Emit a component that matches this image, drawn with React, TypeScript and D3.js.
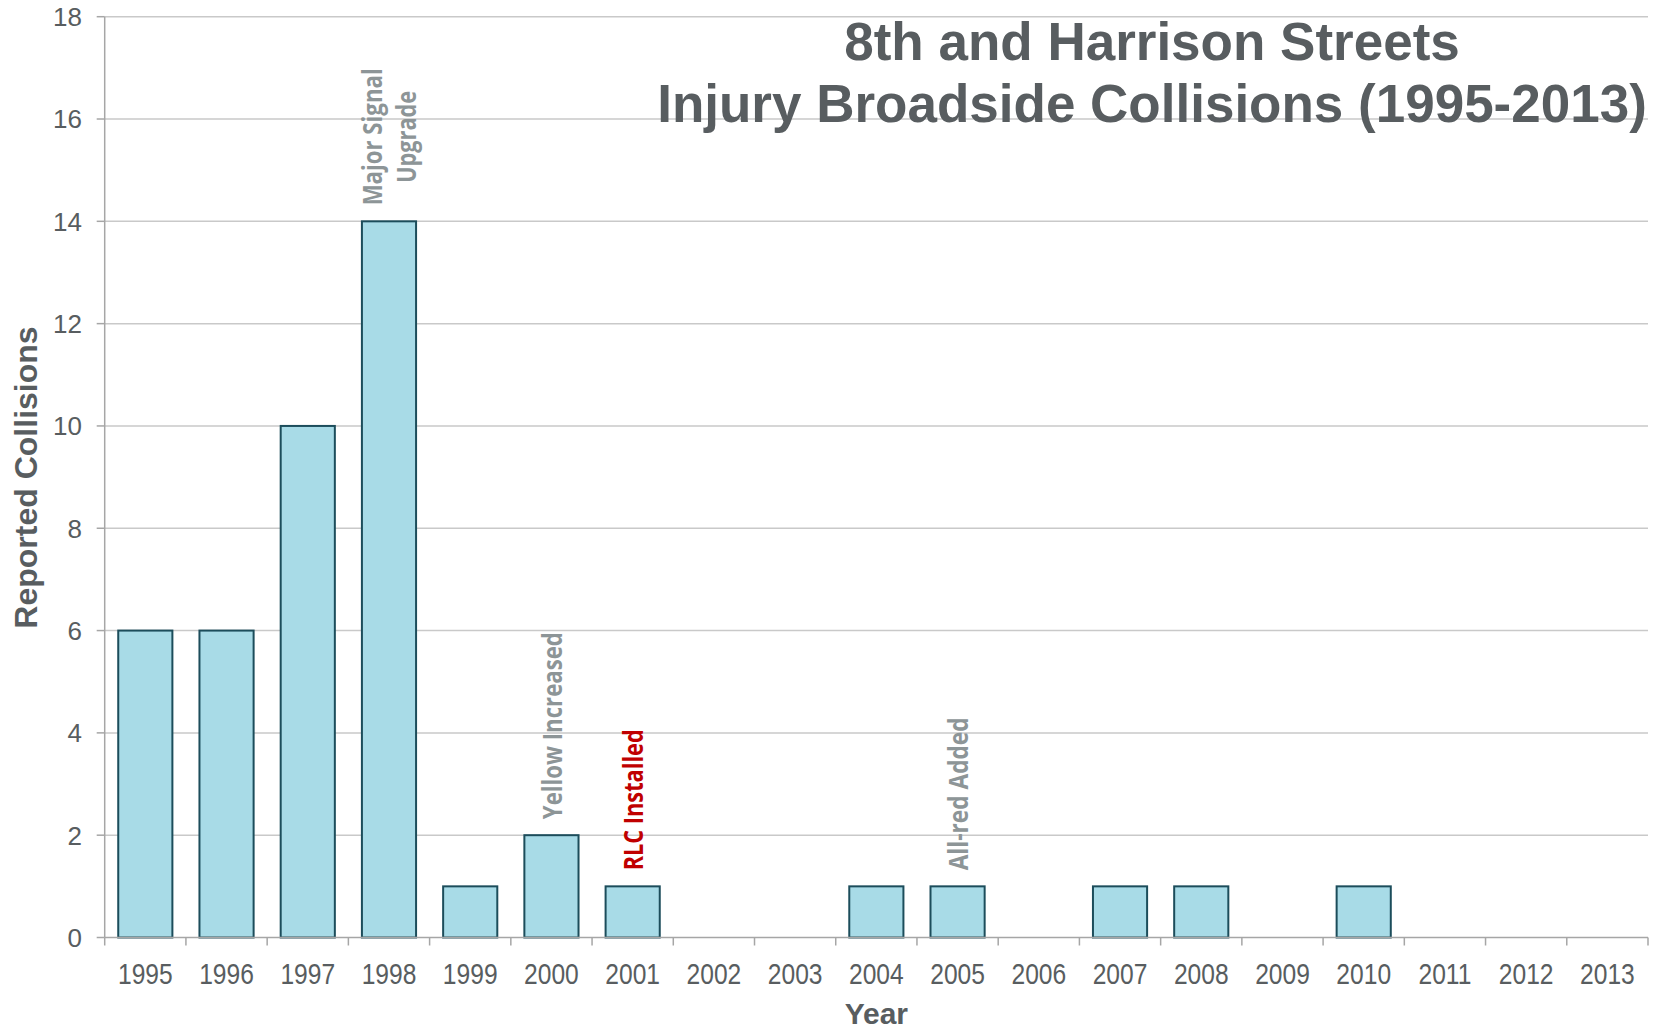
import React from 'react';
import * as d3 from 'd3';

const years = ['1995','1996','1997','1998','1999','2000','2001','2002','2003','2004','2005','2006','2007','2008','2009','2010','2011','2012','2013'];
const collisions = [6, 6, 10, 14, 1, 2, 1, 0, 0, 1, 1, 0, 1, 1, 0, 1, 0, 0, 0];
const yTicks = [0, 2, 4, 6, 8, 10, 12, 14, 16, 18];
const titleLines = ['8th and Harrison Streets', 'Injury Broadside Collisions (1995-2013)'];
const annotationYears = ['1998', '2000', '2001', '2005'];
const annotationLines = [['Major Signal', 'Upgrade'], ['Yellow Increased'], ['RLC Installed'], ['All-red Added']];
const annotationKinds = ['note', 'note', 'key', 'note'];

// styling only
const textLengths: Record<string, number> = {
  'Major Signal': 137, 'Upgrade': 92, 'Yellow Increased': 187, 'RLC Installed': 141, 'All-red Added': 153,
};

const W = 1663, H = 1031;
const L = 104.7, R = 1648, T = 16.7, B = 937.5;
const SANS = "'Liberation Sans', Arial, Helvetica, sans-serif";
const ANN = "'Open Sans', 'Noto Sans', sans-serif";
const TXT = '#585d60';

export default function App() {
  const x = d3.scaleBand<string>().domain(years).range([L, R]).paddingInner(1 / 3).paddingOuter(1 / 6);
  const y = d3.scaleLinear().domain([0, 18]).range([B, T]);
  const step = x.step();
  const bw = x.bandwidth();
  const boundaries = d3.range(years.length + 1).map(i => L + i * step);

  return (
    <svg width={W} height={H} style={{ position: 'absolute', left: 0, top: 0, background: '#fff' }}>
      <rect x={0} y={0} width={W} height={H} fill="#fff" />
      {yTicks.filter(t => t > 0).map(t => (
        <line key={'g' + t} x1={L} x2={R} y1={y(t)} y2={y(t)} stroke="#c9c9c9" strokeWidth={1.5} />
      ))}
      {yTicks.map(t => (
        <line key={'yt' + t} x1={L - 8} x2={L} y1={y(t)} y2={y(t)} stroke="#a6a6a6" strokeWidth={1.5} />
      ))}
      {yTicks.map(t => (
        <text key={'yl' + t} x={82} y={y(t)} dy="0.36em" textAnchor="end" fontFamily={SANS} fontSize={26} fill={TXT}>{t}</text>
      ))}
      {years.map((yr, i) => collisions[i] > 0 ? (
        <rect key={'b' + yr} x={x(yr)!} y={y(collisions[i])} width={bw} height={y(0) - y(collisions[i])}
          fill="#a8dbe7" stroke="#1c4d5b" strokeWidth={2} />
      ) : null)}
      <line x1={L} x2={L} y1={T} y2={B} stroke="#a6a6a6" strokeWidth={1.5} />
      <line x1={L} x2={R} y1={B} y2={B} stroke="#a6a6a6" strokeWidth={1.5} />
      {boundaries.map((bx, i) => (
        <line key={'xt' + i} x1={bx} x2={bx} y1={B} y2={B + 8} stroke="#a6a6a6" strokeWidth={1.5} />
      ))}
      {years.map(yr => (
        <text key={'xl' + yr} transform={`translate(${x(yr)! + bw / 2},${983.5}) scale(0.82,1)`} textAnchor="middle"
          fontFamily={SANS} fontSize={30} fill={TXT}>{yr}</text>
      ))}
      <text x={(L + R) / 2} y={1024} textAnchor="middle" fontFamily={SANS} fontWeight="bold" fontSize={30} fill={TXT}>Year</text>
      <text transform={`translate(37,${477.5}) rotate(-90)`} textAnchor="middle" fontFamily={SANS} fontWeight="bold" fontSize={32} fill={TXT}>Reported Collisions</text>
      <text x={1152} y={60} textAnchor="middle" fontFamily={SANS} fontWeight="bold" fontSize={53} fill={TXT}>{titleLines[0]}</text>
      <text x={1152} y={122} textAnchor="middle" fontFamily={SANS} fontWeight="bold" fontSize={53} fill={TXT}>{titleLines[1]}</text>
      {annotationYears.map((yr, ai) => {
        const i = years.indexOf(yr);
        const cx = x(yr)! + bw / 2 + 1;
        const top = y(collisions[i]) - 16;
        const lines = annotationLines[ai];
        const color = annotationKinds[ai] === 'key' ? '#c00000' : '#8d9597';
        const maxLen = Math.max(...lines.map(l => textLengths[l]));
        const midY = top - maxLen / 2;
        const spacing = 34;
        return lines.map((ln, li) => {
          const lx = cx + (li - (lines.length - 1) / 2) * spacing;
          return (
            <text key={'a' + ai + li} transform={`translate(${lx},${midY}) rotate(-90)`} textAnchor="middle" dy="0.36em"
              fontFamily={ANN} fontWeight="bold" fontSize={26} fill={color}
              textLength={textLengths[ln]} lengthAdjust="spacingAndGlyphs">{ln}</text>
          );
        });
      })}
    </svg>
  );
}
